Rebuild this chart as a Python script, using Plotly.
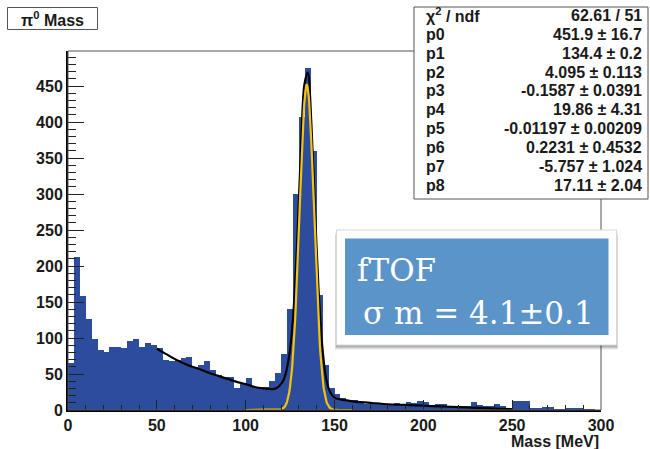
import numpy as np
import plotly.graph_objects as go

# ---- histogram: pi0 invariant mass, 90 bins over 0-300 MeV ----
x_min, x_max, n_bins = 0.0, 300.0, 90
counts = [65, 212, 158, 127, 98, 84, 81, 88, 88, 86,
          96, 99, 87, 93, 90, 86, 69, 68, 69, 72,
          73, 60, 62, 68, 55, 48, 46, 46, 30, 37,
          45, 32, 30, 32, 40, 52, 78, 140, 300, 407,
          475, 360, 160, 62, 30, 22, 16, 14, 14, 10,
          9, 9, 9, 8, 9, 10, 8, 11, 10, 12,
          11, 7, 8, 9, 6, 5, 6, 6, 11, 7,
          5, 5, 9, 6, 3, 12, 12, 12, 3, 3,
          4, 4, 1, 1, 3, 3, 3, 1, 1, 0]

# ---- fit results (stat box) ----
par_names = ["p0", "p1", "p2", "p3", "p4", "p5", "p6", "p7", "p8"]
par_vals = [451.9, 134.4, 4.095, -0.1587, 19.86, -0.01197, 0.2231, -5.757, 17.11]
par_errs = ["16.7", "0.2", "0.113", "0.0391", "4.31", "0.00209", "0.4532", "1.024", "2.04"]
par_fmt = ["451.9", "134.4", "4.095", "-0.1587", "19.86", "-0.01197", "0.2231", "-5.757", "17.11"]
chi2_ndf = "62.61 / 51"

# background under the total fit, sampled along the fit range
fit_mass = [50, 55, 60, 65, 70, 75, 80, 85, 90, 95, 100, 105, 110, 115,
            117, 119, 121, 123, 125, 127, 129, 131, 133, 135, 137, 139,
            141, 143, 145, 147, 149, 151, 155, 160, 170, 180, 190, 200,
            210, 220, 230, 240, 250]
fit_bkg = [85, 78, 71, 65, 60, 56, 51, 47, 43, 39, 36, 32, 30, 29,
           30, 33, 38, 46, 52, 52, 45, 35, 25, 22, 28, 38,
           45, 42, 32, 24, 19, 16, 14, 12, 10, 8, 7, 6,
           5, 4, 3, 2, 1]

# signal gaussian drawing range
sig_lo, sig_hi = 100.0, 160.0

# ---- canvas geometry (pixels) ----
W, H = 650, 449
L, R, T, B = 68, 49, 51, 39
PW, PH = W - L - R, H - T - B
y_top = 498.75


def px(xp):
    return (xp - L) / PW


def py(yp):
    return (H - B - yp) / PH


bin_w = (x_max - x_min) / n_bins
centers = [x_min + (i + 0.5) * bin_w for i in range(n_bins)]

A, mu, sig = par_vals[0], par_vals[1], par_vals[2]


def gauss(m):
    m = np.asarray(m, dtype=float)
    return A * np.exp(-0.5 * ((m - mu) / sig) ** 2)


fig = go.Figure()
fig.add_trace(go.Bar(x=centers, y=counts, width=bin_w,
                     marker=dict(color="#2C4D9E", line=dict(width=0)),
                     hoverinfo="skip"))

total = gauss(fit_mass) + np.array(fit_bkg, dtype=float)
fig.add_trace(go.Scatter(x=fit_mass, y=total, mode="lines",
                         line=dict(color="black", width=2.2, shape="spline", smoothing=0.8),
                         hoverinfo="skip"))

m_sig = np.linspace(sig_lo, sig_hi, 241)
fig.add_trace(go.Scatter(x=m_sig, y=gauss(m_sig), mode="lines",
                         line=dict(color="#F4C20F", width=2.2),
                         hoverinfo="skip"))

tick_font = dict(family="Liberation Sans, Arial, sans-serif", size=16, color="#1a1a1a", weight="bold")

fig.update_layout(
    width=W, height=H,
    margin=dict(l=L, r=R, t=T, b=B, pad=0),
    paper_bgcolor="white", plot_bgcolor="white",
    showlegend=False, bargap=0,
    xaxis=dict(range=[x_min, x_max], tickvals=[0, 50, 100, 150, 200, 250, 300],
               ticks="inside", ticklen=10, tickwidth=1, tickcolor="#222",
               minor=dict(ticks="inside", ticklen=5, dtick=10, tickcolor="#222", showgrid=False),
               showline=True, linecolor="black", linewidth=2, mirror=False,
               showgrid=False, zeroline=False, tickfont=tick_font),
    yaxis=dict(range=[0, y_top], tickvals=[0, 50, 100, 150, 200, 250, 300, 350, 400, 450],
               ticks="inside", ticklen=16, tickwidth=1, tickcolor="#222",
               minor=dict(ticks="inside", ticklen=8, dtick=10, tickcolor="#222", showgrid=False),
               showline=True, linecolor="black", linewidth=2, mirror=False,
               showgrid=False, zeroline=False, tickfont=tick_font),
)

shapes = []
# frame
shapes.append(dict(type="rect", xref="paper", yref="paper", x0=0, x1=1, y0=0, y1=1,
                   line=dict(color="#555", width=1), fillcolor="rgba(0,0,0,0)", layer="above"))
# title box
shapes.append(dict(type="rect", xref="paper", yref="paper",
                   x0=px(7.5), x1=px(97.5), y0=py(29.5), y1=py(7.5),
                   line=dict(color="#555", width=1), fillcolor="white", layer="above"))
# stats box
shapes.append(dict(type="rect", xref="paper", yref="paper",
                   x0=px(414), x1=px(648), y0=py(199), y1=py(7),
                   line=dict(color="#555", width=1), fillcolor="white", layer="above"))
# label panel: soft shadow, white card, blue inset
for off, alpha in [(5, 0.06), (4, 0.08), (3, 0.10), (2, 0.12)]:
    shapes.append(dict(type="rect", xref="paper", yref="paper",
                       x0=px(336.5 - off * 0.3), x1=px(616.5 + off * 0.3),
                       y0=py(345 + off), y1=py(230 + off),
                       line=dict(width=0), fillcolor=f"rgba(0,0,0,{alpha})", layer="above"))
shapes.append(dict(type="rect", xref="paper", yref="paper",
                   x0=px(336.5), x1=px(616.5), y0=py(345), y1=py(230),
                   line=dict(color="#d8d8d8", width=1), fillcolor="white", layer="above"))
shapes.append(dict(type="rect", xref="paper", yref="paper",
                   x0=px(345), x1=px(608.5), y0=py(335), y1=py(238.5),
                   line=dict(width=0), fillcolor="#5B94C9", layer="above"))
fig.update_layout(shapes=shapes)

ann = []
ann.append(dict(xref="paper", yref="paper", x=px(52.5), y=py(18.5), text="π<sup>0</sup> Mass",
                showarrow=False, xanchor="center", yanchor="middle",
                font=dict(family="Liberation Sans, Arial, sans-serif", size=16, color="#1a1a1a", weight="bold")))

stat_font = dict(family="Liberation Sans, Arial, sans-serif", size=16, color="#1a1a1a", weight="bold")
row_labels = ["χ<sup>2</sup> / ndf"] + par_names
row_values = [chi2_ndf] + [f"{v} ± {e}" for v, e in zip(par_fmt, par_errs)]
row_y0, row_dy = 15.5, 18.85
for i, (lab, val) in enumerate(zip(row_labels, row_values)):
    yy = py(row_y0 + i * row_dy)
    ann.append(dict(xref="paper", yref="paper", x=px(424), y=yy, text=lab, showarrow=False,
                    xanchor="left", yanchor="middle", font=stat_font))
    ann.append(dict(xref="paper", yref="paper", x=px(644), y=yy, text=val, showarrow=False,
                    xanchor="right", yanchor="middle", font=stat_font))

ann.append(dict(xref="paper", yref="paper", x=px(601), y=py(441.5), text="Mass [MeV]",
                showarrow=False, xanchor="right", yanchor="middle",
                font=dict(family="Liberation Sans, Arial, sans-serif", size=16, color="#1a1a1a", weight="bold")))

serif = dict(family="DejaVu Serif, serif", size=31, color="white")
ann.append(dict(xref="paper", yref="paper", x=px(355), y=py(270), text="fTOF", showarrow=False,
                xanchor="left", yanchor="middle", font=serif))
ann.append(dict(xref="paper", yref="paper", x=px(361), y=py(313), text="σ m = 4.1±0.1", showarrow=False,
                xanchor="left", yanchor="middle", font=serif))
fig.update_layout(annotations=ann)

fig.write_html("out.html")
